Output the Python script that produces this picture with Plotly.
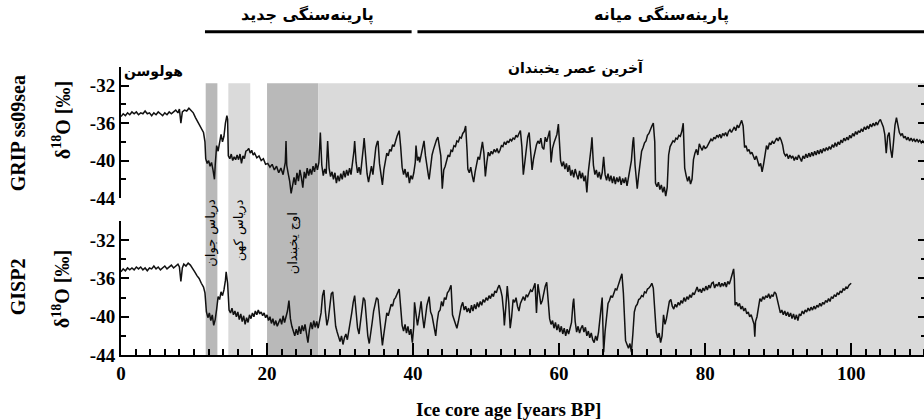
import plotly.graph_objects as go

# ---------------- data ----------------
grip_pts = [
(0.0,-35.3),(0.3,-35.0),(0.6,-35.2),(0.9,-34.9),(1.2,-35.1),(1.5,-34.8),(1.8,-35.0),(2.1,-34.8),(2.4,-35.1),(2.7,-34.9),
(3.0,-35.0),(3.3,-34.7),(3.6,-35.0),(3.9,-34.9),(4.2,-35.2),(4.5,-34.9),(4.8,-35.1),(5.1,-34.8),(5.4,-35.0),(5.7,-35.2),
(6.0,-34.9),(6.3,-35.1),(6.6,-34.8),(6.9,-35.0),(7.2,-34.8),(7.5,-34.6),(7.8,-34.9),(8.0,-34.5),(8.2,-36.0),(8.4,-34.8),
(8.7,-34.6),(9.0,-34.7),(9.3,-34.4),(9.6,-34.6),(9.9,-34.9),(10.2,-35.4),(10.5,-35.8),(10.8,-36.2),(11.1,-36.6),(11.3,-37.0),
(11.5,-38.0),(11.6,-39.8),(11.8,-40.3),(12.0,-40.0),(12.2,-40.6),(12.4,-40.2),(12.6,-41.0),(12.8,-42.0),(12.9,-40.5),(13.0,-39.2),
(13.1,-38.4),(13.3,-39.0),(13.5,-37.8),(13.7,-37.2),(13.9,-38.0),(14.1,-37.4),(14.3,-36.0),(14.5,-35.2),(14.6,-35.6),(14.7,-39.5),
(14.9,-39.8),(15.1,-39.3),(15.3,-40.0),(15.5,-39.6),(15.7,-39.9),(15.9,-39.4),(16.1,-39.9),(16.3,-39.3),(16.5,-40.3),(16.7,-39.5),
(16.9,-39.8),(17.1,-39.0),(17.3,-38.9),(17.5,-38.7),(17.7,-39.2),(17.9,-38.9),(18.1,-39.4),(18.3,-39.2),(18.6,-39.7),(18.9,-39.5),
(19.2,-40.0),(19.5,-39.8),(19.8,-40.4),(20.1,-40.3),(20.4,-40.7),(20.7,-40.4),(21.0,-41.0),(21.3,-40.6),(21.6,-41.3),(21.9,-40.8),
(22.2,-41.5),(22.5,-40.2),(22.6,-37.9),(22.7,-40.5),(22.9,-41.4),(23.1,-42.2),(23.3,-43.5),(23.5,-42.4),(23.7,-41.8),(23.9,-42.6),
(24.1,-41.3),(24.3,-42.2),(24.5,-41.0),(24.7,-41.8),(24.9,-42.9),(25.1,-41.2),(25.3,-41.9),(25.5,-40.8),(25.7,-41.6),(25.9,-40.9),
(26.1,-41.5),(26.3,-40.6),(26.5,-41.2),(26.7,-40.3),(26.9,-41.0),(27.1,-40.2),(27.3,-37.0),(27.5,-40.5),(27.7,-41.6),(27.9,-40.9),
(28.1,-41.4),(28.3,-37.9),(28.5,-40.8),(28.7,-41.7),(28.9,-41.2),(29.1,-42.0),(29.3,-41.3),(29.5,-42.4),(29.7,-41.6),(29.9,-42.2),
(30.1,-41.4),(30.3,-42.0),(30.5,-41.1),(30.7,-41.8),(30.9,-41.0),(31.1,-41.6),(31.3,-40.8),(31.5,-41.5),(31.7,-40.5),(31.9,-39.0),
(32.0,-37.9),(32.2,-40.2),(32.4,-41.3),(32.6,-40.7),(32.8,-41.5),(33.0,-40.3),(33.2,-38.5),(33.3,-37.6),(33.5,-40.0),(33.7,-41.4),
(33.9,-42.3),(34.1,-41.2),(34.3,-40.6),(34.5,-41.5),(34.7,-40.2),(34.9,-38.6),(35.1,-38.0),(35.2,-37.9),(35.4,-40.3),(35.6,-41.4),
(35.8,-42.6),(36.0,-41.0),(36.2,-40.1),(36.4,-39.2),(36.6,-39.5),(36.8,-38.8),(37.0,-39.0),(37.2,-38.3),(37.4,-38.5),(37.6,-37.8),
(37.8,-37.4),(38.0,-37.0),(38.1,-36.8),(38.3,-38.5),(38.5,-40.7),(38.7,-41.5),(38.9,-40.9),(39.1,-41.8),(39.3,-41.2),(39.5,-42.4),
(39.7,-41.6),(39.9,-42.0),(40.1,-41.3),(40.3,-40.2),(40.4,-38.4),(40.6,-40.0),(40.8,-39.6),(40.9,-40.2),(41.1,-39.3),(41.3,-38.6),
(41.5,-37.9),(41.7,-39.5),(41.9,-40.8),(42.1,-41.6),(42.2,-42.0),(42.4,-40.5),(42.6,-39.4),(42.8,-38.8),(43.0,-38.2),(43.2,-37.8),
(43.4,-37.5),(43.6,-38.8),(43.8,-39.5),(44.0,-43.0),(44.2,-41.0),(44.4,-40.6),(44.6,-40.0),(44.8,-39.4),(45.0,-39.6),(45.2,-38.9),
(45.4,-39.0),(45.6,-38.4),(45.8,-38.5),(46.0,-37.9),(46.2,-38.0),(46.4,-37.5),(46.6,-37.6),(46.8,-37.1),(47.0,-36.9),(47.2,-36.3),
(47.4,-39.0),(47.5,-40.9),(47.7,-41.3),(47.9,-40.7),(48.1,-41.6),(48.3,-42.3),(48.5,-41.2),(48.7,-40.3),(48.9,-39.6),(49.1,-39.9),
(49.3,-38.8),(49.5,-38.0),(49.7,-39.2),(49.9,-41.7),(50.1,-40.2),(50.3,-39.1),(50.5,-39.5),(50.7,-39.0),(50.9,-39.3),(51.1,-38.8),
(51.3,-39.1),(51.5,-38.7),(51.7,-39.2),(51.9,-38.9),(52.1,-38.4),(52.3,-38.5),(52.5,-38.0),(52.7,-38.3),(52.9,-37.9),(53.1,-38.1),
(53.3,-37.7),(53.5,-37.9),(53.7,-37.6),(53.9,-37.7),(54.1,-37.3),(54.3,-37.5),(54.5,-37.1),(54.7,-36.8),(54.9,-38.5),(55.1,-41.5),
(55.3,-40.2),(55.5,-39.0),(55.7,-37.5),(55.9,-37.0),(56.1,-39.5),(56.3,-41.0),(56.5,-39.8),(56.7,-38.9),(56.9,-38.3),(57.1,-37.9),
(57.3,-38.2),(57.5,-37.6),(57.7,-38.6),(57.9,-38.8),(58.1,-37.5),(58.3,-38.0),(58.5,-37.2),(58.7,-36.8),(58.9,-40.2),(59.1,-38.7),
(59.3,-38.1),(59.5,-37.5),(59.7,-37.2),(59.9,-36.1),(60.1,-38.5),(60.2,-40.0),(60.4,-40.6),(60.6,-40.1),(60.8,-40.9),(61.0,-40.3),
(61.2,-41.2),(61.4,-40.5),(61.6,-41.6),(61.8,-41.0),(62.0,-41.8),(62.2,-40.9),(62.4,-41.5),(62.6,-42.0),(62.8,-41.1),(63.0,-41.9),
(63.2,-41.3),(63.4,-42.2),(63.6,-41.6),(63.8,-43.4),(64.0,-41.2),(64.2,-40.0),(64.4,-38.5),(64.5,-37.5),(64.7,-40.5),(64.9,-41.5),
(65.1,-41.0),(65.3,-41.8),(65.5,-41.2),(65.7,-42.0),(65.9,-41.3),(66.1,-39.6),(66.3,-41.5),(66.5,-42.1),(66.7,-41.4),(66.9,-42.2),
(67.1,-41.6),(67.3,-42.4),(67.5,-41.7),(67.7,-42.5),(67.9,-41.8),(68.1,-42.3),(68.3,-41.7),(68.5,-42.6),(68.7,-41.9),(68.9,-42.4),
(69.1,-41.8),(69.3,-42.7),(69.5,-41.9),(69.7,-41.2),(69.9,-40.0),(70.1,-38.0),(70.2,-37.5),(70.4,-40.5),(70.6,-42.0),(70.7,-43.0),
(70.9,-41.5),(71.1,-40.0),(71.3,-39.0),(71.5,-38.6),(71.7,-38.1),(71.9,-37.9),(72.1,-37.3),(72.3,-37.1),(72.5,-36.6),(72.7,-36.3),
(72.9,-36.0),(73.1,-38.0),(73.2,-42.4),(73.4,-42.8),(73.6,-42.3),(73.8,-43.1),(74.0,-42.6),(74.2,-43.4),(74.4,-42.8),(74.6,-43.8),
(74.8,-42.9),(75.0,-39.4),(75.2,-38.5),(75.4,-38.2),(75.6,-37.9),(75.8,-38.0),(76.0,-37.6),(76.2,-37.7),(76.4,-37.3),(76.6,-37.4),
(76.8,-36.9),(77.0,-36.0),(77.2,-40.8),(77.4,-41.6),(77.6,-42.2),(77.8,-41.7),(78.0,-42.5),(78.2,-42.0),(78.4,-39.9),(78.6,-39.2),
(78.8,-38.8),(79.0,-39.4),(79.2,-38.2),(79.4,-38.6),(79.6,-38.9),(79.8,-38.4),(80.0,-38.7),(80.2,-38.6),(80.4,-38.2),(80.6,-38.0),
(80.8,-37.7),(81.0,-37.9),(81.2,-37.5),(81.4,-37.7),(81.6,-37.3),(81.8,-37.5),(82.0,-37.2),(82.2,-37.6),(82.4,-37.1),(82.6,-37.3),
(82.8,-37.0),(83.0,-37.4),(83.2,-36.9),(83.4,-36.7),(83.6,-37.0),(83.8,-36.6),(84.0,-36.4),(84.2,-36.8),(84.4,-36.2),(84.6,-36.5),
(84.8,-36.1),(85.0,-35.7),(85.2,-36.3),(85.4,-38.6),(85.6,-38.4),(85.8,-39.0),(86.0,-38.8),(86.2,-39.3),(86.4,-39.1),(86.6,-39.6),
(86.8,-39.9),(87.0,-39.5),(87.2,-40.2),(87.4,-40.6),(87.6,-40.3),(87.8,-41.2),(88.0,-40.4),(88.2,-39.2),(88.4,-38.4),(88.6,-38.8),
(88.8,-38.1),(89.0,-38.3),(89.2,-37.9),(89.4,-38.2),(89.6,-37.8),(89.8,-37.6),(90.0,-37.9),(90.2,-37.5),(90.4,-37.8),(90.6,-38.3),
(90.8,-39.2),(91.0,-39.5),(91.2,-39.3),(91.4,-39.8),(91.6,-39.4),(91.8,-39.7),(92.0,-39.5),(92.2,-40.0),(92.4,-39.6),(92.6,-39.9),
(92.8,-39.4),(93.0,-39.8),(93.2,-40.1),(93.4,-39.5),(93.6,-39.8),(93.8,-39.3),(94.0,-39.7),(94.2,-39.2),(94.4,-39.6),(94.6,-39.1),
(94.8,-39.5),(95.0,-39.0),(95.2,-39.4),(95.4,-38.9),(95.6,-39.3),(95.8,-38.8),(96.0,-39.2),(96.2,-38.7),(96.4,-39.0),(96.6,-38.6),
(96.8,-38.9),(97.0,-38.5),(97.2,-38.8),(97.4,-38.3),(97.6,-38.6),(97.8,-38.1),(98.0,-38.5),(98.2,-38.0),(98.4,-38.3),(98.6,-37.8),
(98.8,-38.1),(99.0,-37.6),(99.2,-37.9),(99.4,-37.5),(99.6,-37.8),(99.8,-37.3),(100.0,-37.6),(100.2,-37.1),(100.4,-37.4),(100.6,-36.9),
(100.8,-37.2),(101.0,-36.8),(101.2,-37.0),(101.4,-36.6),(101.6,-36.9),(101.8,-36.4),(102.0,-36.7),(102.2,-36.3),(102.4,-36.6),(102.6,-36.1),
(102.8,-36.4),(103.0,-36.0),(103.2,-36.3),(103.4,-35.9),(103.6,-36.2),(103.8,-35.8),(104.0,-35.6),(104.2,-36.0),(104.4,-36.4),(104.6,-37.2),
(104.8,-39.2),(105.0,-37.4),(105.2,-37.0),(105.4,-38.8),(105.6,-39.7),(105.8,-38.0),(106.0,-36.2),(106.2,-35.4),(106.4,-36.3),(106.6,-37.0),
(106.8,-37.3),(107.0,-37.1),(107.2,-37.6),(107.4,-37.4),(107.6,-37.8),(107.8,-37.5),(108.0,-37.9),(108.2,-37.6),(108.4,-37.9),(108.6,-37.7),
(108.8,-38.0),(109.0,-37.7),(109.2,-38.0),(109.4,-37.8),(109.6,-38.1),(109.8,-37.9),(110.0,-38.1),(110.2,-37.9),
]

gisp2_pts = [
(0.0,-35.3),(0.3,-35.0),(0.6,-35.2),(0.9,-34.9),(1.2,-35.1),(1.5,-34.9),(1.8,-35.1),(2.1,-34.8),(2.4,-35.0),(2.7,-34.8),
(3.0,-35.1),(3.3,-34.9),(3.6,-35.2),(3.9,-34.9),(4.2,-35.0),(4.5,-34.7),(4.8,-35.0),(5.1,-34.8),(5.4,-35.1),(5.7,-34.9),
(6.0,-34.7),(6.3,-35.0),(6.6,-34.8),(6.9,-34.6),(7.2,-34.9),(7.5,-34.7),(7.8,-34.5),(8.0,-34.8),(8.2,-36.3),(8.4,-34.9),
(8.6,-34.5),(8.9,-34.7),(9.2,-34.4),(9.5,-34.6),(9.8,-34.9),(10.1,-35.3),(10.4,-35.7),(10.7,-36.0),(11.0,-36.5),(11.3,-36.9),
(11.5,-37.5),(11.7,-39.5),(11.9,-40.1),(12.1,-39.6),(12.3,-40.4),(12.5,-39.8),(12.7,-40.9),(12.9,-40.3),(13.1,-39.2),(13.3,-37.9),
(13.5,-38.2),(13.7,-37.4),(13.9,-37.8),(14.1,-37.2),(14.3,-36.2),(14.4,-35.3),(14.6,-36.5),(14.8,-39.3),(15.0,-39.6),(15.2,-39.1),
(15.4,-39.8),(15.6,-39.4),(15.8,-40.0),(16.0,-39.5),(16.2,-40.3),(16.4,-39.7),(16.6,-40.5),(16.8,-39.9),(17.0,-40.8),(17.2,-40.1),
(17.4,-40.6),(17.6,-39.8),(17.8,-40.2),(18.0,-39.6),(18.2,-40.0),(18.4,-39.4),(18.6,-39.8),(18.8,-39.3),(19.0,-39.7),(19.2,-39.5),
(19.4,-39.9),(19.6,-39.6),(19.8,-40.1),(20.0,-39.8),(20.2,-40.4),(20.4,-40.0),(20.6,-40.7),(20.8,-40.2),(21.0,-40.9),(21.2,-40.4),
(21.4,-41.0),(21.6,-40.5),(21.8,-40.2),(22.0,-40.8),(22.2,-39.9),(22.4,-40.6),(22.6,-40.0),(22.8,-39.4),(23.0,-38.3),(23.2,-40.2),
(23.4,-41.0),(23.6,-41.6),(23.8,-42.0),(24.0,-41.3),(24.2,-41.9),(24.4,-41.0),(24.6,-41.8),(24.8,-40.9),(25.0,-41.5),(25.2,-40.8),
(25.4,-41.9),(25.6,-42.7),(25.8,-41.4),(26.0,-40.6),(26.2,-41.3),(26.4,-40.4),(26.6,-41.1),(26.8,-40.5),(27.0,-41.2),(27.2,-40.4),
(27.4,-39.6),(27.6,-37.8),(27.8,-37.2),(28.0,-39.5),(28.2,-40.9),(28.4,-40.2),(28.6,-39.0),(28.8,-37.6),(29.0,-37.4),(29.2,-39.8),
(29.4,-41.0),(29.6,-41.6),(29.8,-42.2),(30.0,-42.6),(30.2,-42.0),(30.4,-42.9),(30.6,-42.2),(30.8,-41.8),(31.0,-42.4),(31.2,-41.5),
(31.4,-40.8),(31.6,-39.6),(31.8,-38.5),(32.0,-37.8),(32.2,-39.5),(32.4,-41.2),(32.6,-41.8),(32.8,-40.5),(33.0,-39.2),(33.2,-38.0),
(33.4,-38.3),(33.6,-40.5),(33.8,-42.0),(34.0,-42.8),(34.2,-41.9),(34.4,-40.6),(34.6,-39.4),(34.8,-38.6),(35.0,-38.0),(35.2,-38.2),
(35.4,-40.0),(35.6,-42.0),(35.8,-43.0),(36.0,-41.8),(36.2,-40.5),(36.4,-39.6),(36.6,-39.9),(36.8,-39.2),(37.0,-38.7),(37.2,-38.9),
(37.4,-38.2),(37.6,-38.0),(37.8,-37.6),(38.0,-37.3),(38.1,-37.1),(38.3,-39.0),(38.5,-40.9),(38.7,-41.5),(38.9,-40.8),(39.1,-41.7),
(39.3,-41.0),(39.5,-41.9),(39.7,-41.3),(39.9,-42.7),(40.1,-41.0),(40.2,-38.5),(40.4,-39.8),(40.6,-40.9),(40.8,-40.0),(41.1,-38.4),
(41.3,-40.0),(41.5,-41.2),(41.7,-40.0),(41.9,-38.8),(42.2,-37.9),(42.4,-39.5),(42.6,-39.9),(42.8,-40.8),(43.0,-41.5),(43.1,-42.0),
(43.3,-40.5),(43.5,-39.5),(43.7,-39.3),(43.9,-38.4),(44.1,-38.9),(44.3,-38.0),(44.5,-38.2),(44.7,-37.5),(44.9,-37.3),(45.1,-36.9),
(45.2,-36.7),(45.4,-39.8),(45.6,-40.3),(45.8,-40.9),(46.0,-41.2),(46.2,-40.5),(46.4,-39.6),(46.6,-38.9),(46.8,-38.5),(47.0,-39.3),
(47.2,-38.9),(47.4,-39.5),(47.6,-39.1),(47.8,-39.6),(48.0,-38.8),(48.2,-39.4),(48.4,-38.7),(48.6,-39.2),(48.8,-38.5),(49.0,-39.0),
(49.2,-38.4),(49.4,-38.8),(49.6,-38.2),(49.8,-38.5),(50.0,-38.0),(50.2,-38.3),(50.4,-37.8),(50.6,-38.1),(50.8,-37.6),(51.0,-37.9),
(51.2,-37.3),(51.4,-37.5),(51.6,-37.0),(51.8,-36.7),(52.0,-37.2),(52.2,-37.9),(52.4,-39.5),(52.5,-40.9),(52.7,-39.0),(52.9,-36.8),
(53.1,-38.5),(53.3,-41.2),(53.5,-40.0),(53.7,-38.2),(53.9,-38.5),(54.1,-38.0),(54.3,-38.9),(54.5,-39.4),(54.7,-38.6),(54.9,-38.2),
(55.1,-37.9),(55.3,-38.3),(55.5,-37.7),(55.7,-37.9),(55.9,-37.5),(56.1,-37.2),(56.3,-37.4),(56.5,-36.9),(56.7,-36.5),(56.9,-39.6),
(57.1,-36.6),(57.3,-37.6),(57.5,-38.7),(57.7,-38.3),(57.9,-37.5),(58.1,-36.8),(58.3,-36.4),(58.5,-38.5),(58.7,-40.2),(58.9,-40.8),
(59.1,-40.4),(59.3,-41.2),(59.5,-40.6),(59.7,-41.4),(59.9,-40.8),(60.1,-41.6),(60.3,-41.0),(60.5,-41.8),(60.7,-41.2),(60.9,-42.0),
(61.1,-41.3),(61.3,-41.8),(61.5,-41.1),(61.7,-40.6),(61.9,-38.6),(62.0,-38.1),(62.2,-40.5),(62.4,-41.6),(62.6,-41.0),(62.8,-41.7),
(63.0,-41.2),(63.2,-40.9),(63.4,-41.6),(63.6,-41.1),(63.8,-42.0),(64.0,-41.5),(64.2,-42.2),(64.4,-41.7),(64.6,-42.4),(64.8,-42.7),
(65.0,-42.0),(65.2,-42.5),(65.4,-41.6),(65.6,-40.2),(65.8,-38.6),(65.9,-38.0),(66.0,-41.0),(66.1,-43.7),(66.3,-41.5),(66.5,-39.6),
(66.7,-38.6),(66.9,-38.3),(67.1,-37.8),(67.3,-38.0),(67.5,-37.4),(67.7,-37.1),(67.9,-37.2),(68.1,-36.7),(68.3,-36.4),(68.5,-35.9),
(68.6,-35.5),(68.8,-37.5),(68.9,-39.0),(69.1,-42.5),(69.3,-42.9),(69.5,-43.3),(69.7,-42.8),(69.9,-43.7),(70.1,-41.8),(70.3,-39.5),
(70.5,-38.9),(70.7,-38.7),(70.9,-38.2),(71.1,-38.1),(71.3,-37.8),(71.5,-37.9),(71.7,-37.4),(71.9,-37.5),(72.1,-37.1),(72.3,-37.0),
(72.5,-36.8),(72.7,-36.5),(72.9,-37.0),(73.1,-39.5),(73.3,-41.6),(73.5,-42.2),(73.7,-41.7),(73.9,-42.7),(74.1,-42.0),(74.3,-39.8),
(74.5,-40.8),(74.7,-40.2),(74.9,-39.0),(75.1,-38.4),(75.3,-38.2),(75.5,-38.9),(75.7,-39.2),(75.9,-38.7),(76.1,-39.0),(76.3,-38.5),
(76.5,-38.8),(76.7,-38.3),(76.9,-38.6),(77.1,-38.0),(77.3,-38.4),(77.5,-37.9),(77.7,-38.2),(77.9,-37.7),(78.1,-38.0),(78.3,-37.5),
(78.5,-37.7),(78.7,-37.2),(78.9,-36.9),(79.1,-37.4),(79.3,-37.1),(79.5,-37.5),(79.7,-37.0),(79.9,-37.3),(80.1,-36.8),(80.3,-37.2),
(80.5,-36.7),(80.7,-37.0),(80.9,-36.5),(81.1,-36.4),(81.3,-37.0),(81.5,-36.6),(81.7,-36.8),(81.9,-36.4),(82.1,-36.9),(82.3,-36.5),
(82.5,-36.8),(82.7,-36.4),(82.9,-36.9),(83.1,-36.3),(83.3,-36.6),(83.5,-36.1),(83.7,-35.6),(83.9,-35.0),(84.0,-36.0),(84.1,-38.8),
(84.3,-38.5),(84.5,-38.9),(84.7,-38.6),(84.9,-39.2),(85.1,-38.9),(85.3,-39.4),(85.5,-39.1),(85.7,-39.7),(85.9,-39.5),(86.1,-40.0),
(86.3,-39.8),(86.5,-40.4),(86.7,-40.8),(86.8,-42.1),(86.9,-40.5),(87.1,-40.0),(87.3,-38.8),(87.5,-38.1),(87.7,-38.4),(87.9,-37.9),
(88.1,-38.2),(88.3,-37.8),(88.5,-38.0),(88.7,-37.6),(88.9,-38.1),(89.1,-37.7),(89.3,-37.9),(89.5,-37.4),(89.7,-37.6),(89.9,-38.3),
(90.1,-39.0),(90.3,-39.6),(90.5,-39.3),(90.7,-39.8),(90.9,-39.4),(91.1,-39.9),(91.3,-39.5),(91.5,-40.0),(91.7,-39.6),(91.9,-40.2),
(92.1,-39.7),(92.3,-40.3),(92.5,-39.8),(92.7,-40.4),(92.9,-39.7),(93.1,-39.9),(93.3,-39.4),(93.5,-39.7),(93.7,-39.3),(93.9,-39.5),
(94.1,-39.1),(94.3,-39.4),(94.5,-39.0),(94.7,-39.3),(94.9,-38.9),(95.1,-39.2),(95.3,-38.8),(95.5,-39.0),(95.7,-38.6),(95.9,-38.9),
(96.1,-38.5),(96.3,-38.7),(96.5,-38.3),(96.7,-38.5),(96.9,-38.1),(97.1,-38.4),(97.3,-37.9),(97.5,-38.1),(97.7,-37.7),(97.9,-37.9),
(98.1,-37.5),(98.3,-37.7),(98.5,-37.3),(98.7,-37.5),(98.9,-37.1),(99.1,-37.2),(99.3,-36.9),(99.5,-37.0),(99.7,-36.7),(99.9,-36.6),
(100.0,-36.5),
]

grip_age = [p[0] for p in grip_pts]
grip_d18o = [p[1] for p in grip_pts]
gisp2_age = [p[0] for p in gisp2_pts]
gisp2_d18o = [p[1] for p in gisp2_pts]

# climate periods (kyr BP)
period_names = ["دریاس جوان", "دریاس کهن", "اوج یخبندان", "آخرین عصر یخبندان"]
period_start = [11.6, 14.7, 20.0, 27.0]
period_end = [13.2, 17.7, 27.0, 111.0]
period_shade = ["#b9b9b9", "#dadada", "#b9b9b9", "#dadada"]

# archaeological periods (kyr BP)
culture_names = ["پارینه‌سنگی جدید", "پارینه‌سنگی میانه"]
culture_start = [11.5, 40.6]
culture_end = [39.8, 111.0]
culture_label_x = [25.6, 74.0]

holocene_label = "هولوسن"

x_tickvals = [0, 20, 40, 60, 80, 100]
x_ticktext = ["<b>0</b>", "<b>20</b>", "<b>40</b>", "<b>60</b>", "<b>80</b>", "<b>100</b>"]
y_tickvals = [-44, -40, -36, -32]
y_ticktext = ["<b>-44</b>", "<b>-40</b>", "<b>-36</b>", "<b>-32</b>"]
y_minor = [-42, -38, -34, -30]

# ---------------- figure ----------------
SERIF = "Liberation Serif"
FA = "DejaVu Sans"
FIG_W = 928  # right spine falls just outside the 924 px window, as in the reference

fig = go.Figure()
fig.add_trace(go.Scatter(x=grip_age, y=grip_d18o, mode="lines", xaxis="x2", yaxis="y2",
                         line=dict(color="#111111", width=1.5), showlegend=False, hoverinfo="skip"))
fig.add_trace(go.Scatter(x=gisp2_age, y=gisp2_d18o, mode="lines", xaxis="x", yaxis="y",
                         line=dict(color="#111111", width=1.5), showlegend=False, hoverinfo="skip"))

shapes = []
for s, e, c in zip(period_start, period_end, period_shade):
    shapes.append(dict(type="rect", xref="x", yref="paper", x0=s, x1=e, y0=0, y1=0.944,
                       fillcolor=c, line=dict(width=0), layer="below"))
for s, e in zip(culture_start, culture_end):
    shapes.append(dict(type="line", xref="x", yref="paper", x0=s, x1=e, y0=1.122, y1=1.122,
                       line=dict(color="black", width=3)))

def ann(text, x, y, xref="paper", yref="paper", angle=0, font=None):
    return dict(text=text, x=x, y=y, xref=xref, yref=yref, textangle=angle, showarrow=False,
                xanchor="center", yanchor="middle", font=font)

fa_head = dict(family=FA, size=16, color="black")
fa_lab = dict(family=FA, size=14, color="black")
fa_vert = dict(family=FA, size=13, color="black")

W = FIG_W - 121.0
def px_to_paper_x(px):
    return (px - 121.0) / W

annotations = []
for name, xc in zip(culture_names, culture_label_x):
    annotations.append(ann(f"<b>{name}</b>", xc, 1.18, xref="x", font=fa_head))
annotations.append(ann(f"<b>{holocene_label}</b>", px_to_paper_x(154), 0.983, font=fa_lab))
annotations.append(ann(f"<b>{period_names[3]}</b>", px_to_paper_x(577), 0.997, font=fa_lab))
vert_pos = [(12.3, 0.424), (16.2, 0.434), (23.6, 0.389)]
for name, (xv, yv) in zip(period_names[:3], vert_pos):
    annotations.append(ann(name, xv, yv, xref="x", angle=-90, font=fa_vert))

ylab_font = dict(family=SERIF, size=20, color="black")
annotations += [
    ann("<b>GRIP ss09sea</b>", px_to_paper_x(18), 0.771, angle=-90, font=ylab_font),
    ann("<b>δ<sup>18</sup>O [‰]</b>", px_to_paper_x(61), 0.816, angle=-90, font=ylab_font),
    ann("<b>GISP2</b>", px_to_paper_x(18), 0.236, angle=-90, font=ylab_font),
    ann("<b>δ<sup>18</sup>O [‰]</b>", px_to_paper_x(61), 0.229, angle=-90, font=ylab_font),
    ann("<b>Ice core age [years BP]</b>", px_to_paper_x(509), -0.19, font=dict(family=SERIF, size=19, color="black")),
]

tickfont = dict(family=SERIF, size=19, color="black")
left_y = dict(range=[-44, -30], showline=True, mirror="ticks", linecolor="black", linewidth=2, ticks="inside",
              ticklen=8, tickwidth=2, tickcolor="black", tickvals=y_tickvals, ticktext=y_ticktext,
              tickfont=tickfont, showgrid=False, zeroline=False,
              minor=dict(tickvals=y_minor, ticks="inside", ticklen=5, tickwidth=2, tickcolor="black",
                         showgrid=False))

fig.update_layout(
    width=FIG_W, height=420,
    margin=dict(l=121, r=0, t=67, b=65),
    paper_bgcolor="white", plot_bgcolor="white",
    showlegend=False,
    xaxis=dict(domain=[0, 1], anchor="y", range=[0, W / 7.32], showline=True, linecolor="black", linewidth=2,
               ticks="inside", ticklen=12, tickwidth=2, tickcolor="black", tickvals=x_tickvals,
               ticktext=x_ticktext, tickfont=tickfont, showgrid=False, zeroline=False,
               minor=dict(dtick=2, tick0=0, ticks="inside", ticklen=6, tickwidth=2, tickcolor="black",
                          showgrid=False)),
    xaxis2=dict(domain=[0, 1], anchor="y2", matches="x", visible=False),
    yaxis=dict(domain=[0, 0.465], anchor="x", **left_y),
    yaxis2=dict(domain=[0.545, 1], anchor="x2", **left_y),
    shapes=shapes,
    annotations=annotations,
)

fig.write_html("out.html", config={"displayModeBar": False},
               post_script="document.body.style.margin='0';document.body.style.padding='0';"
                           "document.body.style.overflow='hidden';"
                           "document.documentElement.style.overflow='hidden';")
